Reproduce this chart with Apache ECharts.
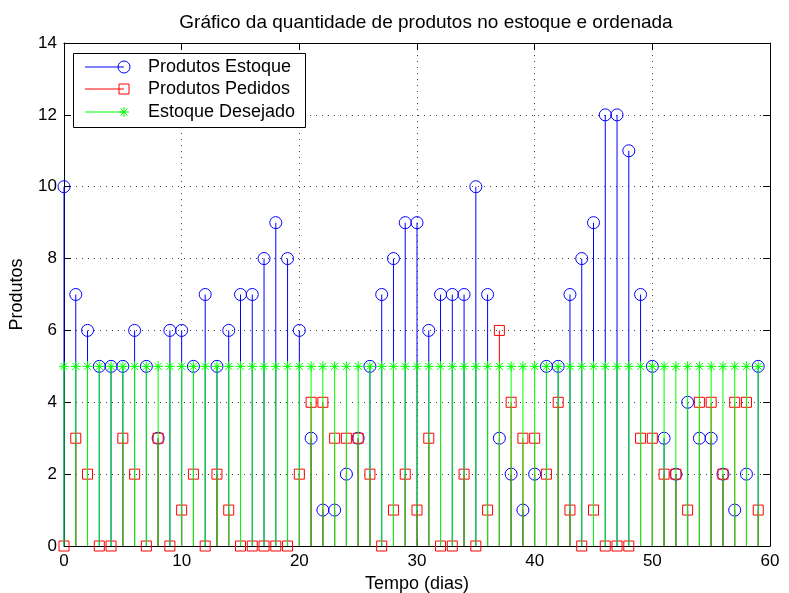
<!DOCTYPE html>
<html>
<head>
<meta charset="utf-8">
<script src="https://cdn.jsdelivr.net/npm/echarts@6/dist/echarts.min.js"></script>
<style>
  html, body { margin: 0; padding: 0; background: #fff; }
  #chart { width: 789px; height: 593px; }
</style>
</head>
<body>
<div id="chart"></div>
<script>
// dias 0..59
const dias = [0,1,2,3,4,5,6,7,8,9,10,11,12,13,14,15,16,17,18,19,20,21,22,23,24,25,26,27,28,29,
  30,31,32,33,34,35,36,37,38,39,40,41,42,43,44,45,46,47,48,49,50,51,52,53,54,55,56,57,58,59];
const produtosEstoque = [10,7,6,5,5,5,6,5,3,6, 6,5,7,5,6,7,7,8,9,8, 6,3,1,1,2,3,5,7,8,9,
  9,6,7,7,7,10,7,3,2,1, 2,5,5,7,8,9,12,12,11,7, 5,3,2,4,3,3,2,1,2,5];
const produtosPedidos = [0,3,2,0,0,3,2,0,3,0, 1,2,0,2,1,0,0,0,0,0, 2,4,4,3,3,3,2,0,1,2,
  1,3,0,0,2,0,1,6,4,3, 3,2,4,1,0,1,0,0,0,3, 3,2,2,1,4,4,2,4,4,1];
const estoqueDesejado = [5,5,5,5,5,5,5,5,5,5, 5,5,5,5,5,5,5,5,5,5, 5,5,5,5,5,5,5,5,5,5,
  5,5,5,5,5,5,5,5,5,5, 5,5,5,5,5,5,5,5,5,5, 5,5,5,5,5,5,5,5,5,5];
const ticksX = [0, 10, 20, 30, 40, 50, 60];
const ticksY = [0, 2, 4, 6, 8, 10, 12, 14];

const fonte = '"Liberation Sans", Arial, Helvetica, sans-serif';
const AZUL = '#0000ff', VERMELHO = '#ff0000', VERDE = '#00ff00';

// marcadores estilo matlab
function marcador(tipo, cx, cy, cor) {
  if (tipo === 'o') {
    return [{ type: 'circle', shape: { cx: cx, cy: cy, r: 6 }, style: { fill: 'none', stroke: cor, lineWidth: 1 } }];
  }
  if (tipo === 's') {
    return [{ type: 'rect', shape: { x: cx - 5, y: cy - 5, width: 10, height: 10 }, style: { fill: 'none', stroke: cor, lineWidth: 1 } }];
  }
  // '*'
  const r = 5, d = 3.6;
  const segs = [[-r, 0, r, 0], [0, -r, 0, r], [-d, -d, d, d], [-d, d, d, -d]];
  return segs.map(s => ({
    type: 'line',
    shape: { x1: cx + s[0], y1: cy + s[1], x2: cx + s[2], y2: cy + s[3] },
    style: { stroke: cor, lineWidth: 1 }
  }));
}

function stem(nome, valores, tipo, cor) {
  return {
    name: nome,
    type: 'custom',
    data: dias.map((d, i) => [d, valores[i]]),
    renderItem: function (params, api) {
      const base = api.coord([api.value(0), 0]);
      const topo = api.coord([api.value(0), api.value(1)]);
      const filhos = [{
        type: 'line',
        shape: { x1: base[0], y1: base[1], x2: topo[0], y2: topo[1] },
        style: { stroke: cor, lineWidth: 1 }
      }].concat(marcador(tipo, topo[0], topo[1], cor));
      return { type: 'group', children: filhos };
    }
  };
}

// legenda desenhada à mão (linha + marcador na ponta, como no matlab)
const legItens = [
  { nome: 'Produtos Estoque', tipo: 'o', cor: AZUL, y: 67 },
  { nome: 'Produtos Pedidos', tipo: 's', cor: VERMELHO, y: 89 },
  { nome: 'Estoque Desejado', tipo: '*', cor: VERDE, y: 112 }
];
const legenda = [{
  type: 'rect', shape: { x: 73.5, y: 53.5, width: 232, height: 74 },
  style: { fill: '#fff', stroke: '#000', lineWidth: 1 }, z: 100
}];
legItens.forEach(it => {
  legenda.push({ type: 'line', shape: { x1: 85, y1: it.y, x2: 124, y2: it.y }, style: { stroke: it.cor, lineWidth: 1 }, z: 101 });
  marcador(it.tipo, 124, it.y, it.cor).forEach(m => { m.z = 101; legenda.push(m); });
  legenda.push({
    type: 'text', x: 148, y: it.y, z: 101,
    style: { text: it.nome, fill: '#000', font: '18px ' + fonte, verticalAlign: 'middle' }
  });
});

const eixoBase = {
  type: 'value',
  axisLine: { show: true, onZero: false, lineStyle: { color: '#000', width: 1 } },
  axisTick: { show: true, inside: true, length: 7, lineStyle: { color: '#000' } }
};

const chart = echarts.init(document.getElementById('chart'));
chart.setOption({
  animation: false,
  title: {
    text: 'Gráfico da quantidade de produtos no estoque e ordenada',
    left: 421, top: 8, textAlign: 'center',
    textStyle: { fontFamily: fonte, fontSize: 19, fontWeight: 'normal', color: '#000' }
  },
  grid: { left: 64, right: 19, top: 43, bottom: 47, show: false, outerBoundsMode: 'none', containLabel: false },
  xAxis: [
    Object.assign({}, eixoBase, {
      position: 'bottom', min: 0, max: 60, interval: 10,
      name: 'Tempo (dias)', nameLocation: 'middle', nameGap: 29,
      nameTextStyle: { fontFamily: fonte, fontSize: 18, color: '#000' },
      axisLabel: { color: '#000', fontFamily: fonte, fontSize: 17, margin: 7,
        formatter: v => ticksX.includes(v) ? String(v) : '' },
      splitLine: { show: true, lineStyle: { color: '#444', type: [1, 5], width: 1 } }
    }),
    Object.assign({}, eixoBase, {
      position: 'top', min: 0, max: 60, interval: 10,
      axisLabel: { show: false }, splitLine: { show: false }
    })
  ],
  yAxis: [
    Object.assign({}, eixoBase, {
      position: 'left', min: 0, max: 14, interval: 2,
      name: 'Produtos', nameLocation: 'middle', nameGap: 38,
      nameTextStyle: { fontFamily: fonte, fontSize: 18, color: '#000' },
      axisLabel: { color: '#000', fontFamily: fonte, fontSize: 17, margin: 7,
        formatter: v => ticksY.includes(v) ? String(v) : '' },
      splitLine: { show: true, lineStyle: { color: '#444', type: [1, 5], width: 1 } }
    }),
    Object.assign({}, eixoBase, {
      position: 'right', min: 0, max: 14, interval: 2,
      axisLabel: { show: false }, splitLine: { show: false }
    })
  ],
  series: [
    stem('Produtos Estoque', produtosEstoque, 'o', AZUL),
    stem('Produtos Pedidos', produtosPedidos, 's', VERMELHO),
    stem('Estoque Desejado', estoqueDesejado, '*', VERDE)
  ],
  graphic: legenda
});
</script>
</body>
</html>
